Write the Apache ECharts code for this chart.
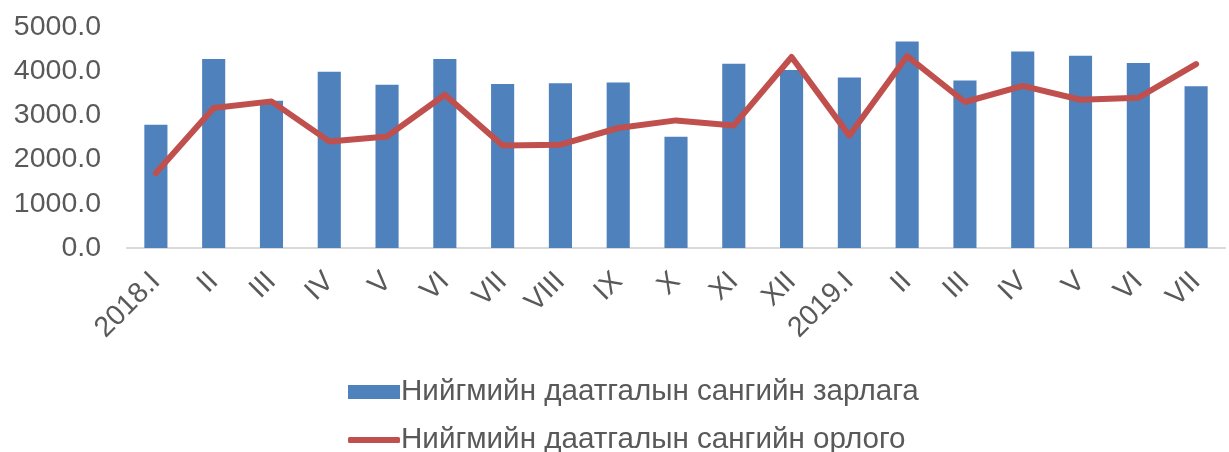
<!DOCTYPE html>
<html>
<head>
<meta charset="utf-8">
<script src="https://cdn.jsdelivr.net/npm/echarts@6/dist/echarts.min.js"></script>
<style>
  html, body { margin: 0; padding: 0; background: #fff; }
  #chart { width: 1229px; height: 452px; }
</style>
</head>
<body>
<div id="chart"></div>
<script>
const categories = ['2018.I','II','III','IV','V','VI','VII','VIII','IX','X','XI','XII','2019.I','II','III','IV','V','VI','VII'];
const expenditure = [2790, 4275, 3330, 3990, 3695, 4275, 3710, 3725, 3745, 2518, 4170, 4027, 3855, 4670, 3787, 4448, 4350, 4183, 3658];
const income = [1697, 3167, 3317, 2412, 2525, 3468, 2321, 2337, 2715, 2887, 2774, 4321, 2543, 4342, 3303, 3667, 3355, 3400, 4160];
const seriesNames = ['Нийгмийн даатгалын сангийн зарлага', 'Нийгмийн даатгалын сангийн орлого'];

const FONT = '"Liberation Sans", Arial, sans-serif';
const legendText = { fontFamily: FONT, fontSize: 29.6, color: '#595959', padding: [0, 0, 0, -4] };
const chart = echarts.init(document.getElementById('chart'), null, { renderer: 'canvas' });
chart.setOption({
  animation: false,
  textStyle: { fontFamily: FONT },
  grid: { left: 127, right: 4, top: 27, bottom: 204, containLabel: false },
  legend: [
    {
      left: 343,
      top: 372,
      itemWidth: 52,
      itemHeight: 14,
      textStyle: legendText,
      data: [{ name: seriesNames[0], icon: 'rect' }]
    },
    {
      left: 343,
      top: 420,
      itemWidth: 52,
      itemHeight: 6,
      textStyle: legendText,
      data: [{ name: seriesNames[1], icon: 'roundRect', itemStyle: { color: '#C0504D' } }]
    }
  ],
  xAxis: {
    type: 'category',
    data: categories,
    axisLine: { lineStyle: { color: '#D9D9D9', width: 2 } },
    axisTick: { show: false },
    axisLabel: { rotate: 45, fontSize: 28.5, color: '#595959', margin: 29, interval: 0, fontFamily: FONT }
  },
  yAxis: {
    type: 'value',
    min: 0,
    max: 5000,
    interval: 1000,
    axisLine: { show: false },
    axisTick: { show: false },
    splitLine: { show: false },
    axisLabel: { fontSize: 28.5, color: '#595959', margin: 26, fontFamily: FONT, formatter: v => v.toFixed(1) }
  },
  series: [
    {
      name: seriesNames[0],
      type: 'bar',
      data: expenditure,
      barWidth: '40%',
      itemStyle: { color: '#4F81BD' }
    },
    {
      name: seriesNames[1],
      type: 'line',
      data: income,
      symbol: 'none',
      lineStyle: { color: '#C0504D', width: 6, cap: 'round', join: 'round' },
      itemStyle: { color: '#C0504D' }
    }
  ]
});
</script>
</body>
</html>
